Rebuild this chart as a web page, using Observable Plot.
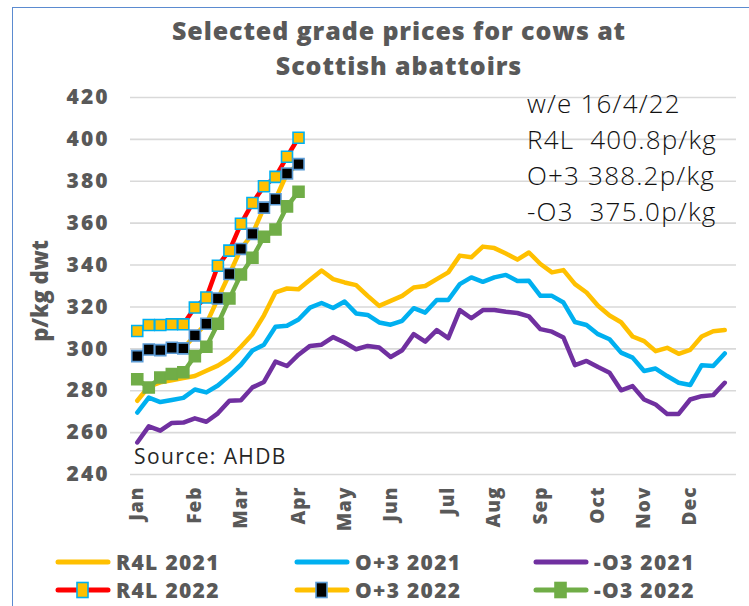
<!DOCTYPE html>
<html>
<head>
<meta charset="utf-8">
<script src="https://cdn.jsdelivr.net/npm/d3@7"></script>
<script src="https://cdn.jsdelivr.net/npm/@observablehq/plot@0.6"></script>
<style>
  body { margin: 0; background: #fff; }
  #wrap { position: relative; width: 749px; height: 606px; overflow: hidden; font-family: "Open Sans", sans-serif; background: #fff; }
  #frame { position: absolute; left: 12px; top: 7px; width: 800px; height: 700px; border: 1.5px solid #5B8BD0; box-sizing: border-box; }
  #title { position: absolute; top: 13px; left: 0; width: 798px; text-align: center; font-weight: 800; font-size: 25px; line-height: 35px; color: #595959; letter-spacing: 0.9px; }
  #chart { position: absolute; top: 80px; left: 0; }
  #note { position: absolute; left: 527px; top: 85px; font-weight: 300; font-size: 26px; line-height: 36px; color: #111; letter-spacing: 1.2px; white-space: pre; }
  #source { position: absolute; left: 134px; top: 442px; font-weight: 400; font-size: 21px; color: #262626; letter-spacing: 1.4px; white-space: pre; }
  .leg { position: absolute; display: flex; align-items: center; font-weight: 800; font-size: 21px; color: #595959; letter-spacing: 1.3px; white-space: pre; height: 28px; }
  .leg svg { margin-right: 3px; }
  #chart svg [aria-label="y-axis tick label"] { letter-spacing: 2px; font-weight: 800; }
  #chart svg [aria-label="x-axis tick label"] { letter-spacing: 1px; font-weight: 800; }
</style>
</head>
<body>
<div id="wrap">
  <div id="frame"></div>
  <div id="title"></div>
  <div id="chart"></div>
  <div id="note"></div>
  <div id="source"></div>
  <div id="legend"></div>
</div>
<script>
// ---- Text ----
const titleLines = ["Selected grade prices for cows at", "Scottish abattoirs"];
const yTitle = "p/kg dwt";
const noteLines = ["w/e 16/4/22", "R4L  400.8p/kg", "O+3 388.2p/kg", "-O3  375.0p/kg"];
const sourceText = "Source: AHDB";

// ---- Axis ticks ----
const yTicks = [240, 260, 280, 300, 320, 340, 360, 380, 400, 420];
const monthNames = ["Jan", "Feb", "Mar", "Apr", "May", "Jun", "Jul", "Aug", "Sep", "Oct", "Nov", "Dec"];
const monthWeek = [0, 5, 9, 14, 18, 22, 27, 31, 35, 40, 44, 48];

// ---- Series (weekly, p/kg dwt) ----
const seriesNames = ["R4L 2021", "O+3 2021", "-O3 2021", "R4L 2022", "O+3 2022", "-O3 2022"];
const r4l2021 = [275.2, 282, 284, 285, 286, 287, 289.5, 292, 295.5, 301, 307, 316, 327, 328.8, 328.5, 333, 337.4, 333.3, 331.7, 330.4,
  325.3, 320.5, 322.9, 325.3, 329.3, 330, 333.3, 336.5, 344.5, 343.7, 348.8, 348.1, 345.5, 342.6, 346, 340.5, 336.5, 337.6, 330.9, 326.9,
  320.6, 315.9, 312.7, 305.9, 303.7, 298.9, 300.5, 297.6, 299.5, 305.9, 308.4, 309];
const o3p2021 = [269.6, 276.7, 274.6, 275.6, 276.6, 280.6, 279.2, 282.5, 287.2, 292.4, 299.2, 302, 310.5, 311, 314, 319.7, 321.9, 319.5, 322.6, 316.9,
  316.2, 312.6, 311.5, 313.4, 319.4, 317.3, 323.3, 323.3, 330.9, 334.1, 332, 334.1, 335.3, 332.4, 332.5, 325.3, 325.3, 322.1, 312.8, 311.4,
  307, 304.6, 298.2, 295.8, 289.4, 290.6, 287, 283.8, 282.7, 292.2, 291.8, 297.8];
const o3m2021 = [255.3, 263, 260.9, 264.6, 264.8, 266.8, 265.2, 269.2, 275.2, 275.4, 281.6, 284.2, 293.9, 291.8, 297.2, 301.4, 302, 305.6, 303, 299.8,
  301.4, 300.6, 296.1, 299.3, 307, 303.4, 308.9, 305.1, 318.5, 314.6, 318.5, 318.5, 317.7, 317.1, 315.5, 309.4, 308.2, 305.4, 292.2, 294.2,
  291.3, 288.6, 280.2, 282.2, 275.8, 273.4, 268.9, 268.9, 275.8, 277.4, 277.9, 283.8];
const r4l2022 = [308.5, 311.4, 311.4, 311.7, 311.7, 319.7, 324.5, 339.7, 346.9, 359.7, 369.6, 377.6, 382.1, 391.7, 400.8];
const o3p2022 = [296.5, 299.7, 299.4, 300.5, 300.2, 306.4, 312, 324, 335.7, 347.7, 354.9, 367.4, 371.4, 383.7, 388.2];
const o3m2022 = [285.5, 281.5, 286.3, 288, 288.8, 296.5, 301, 312, 324, 335.5, 343.5, 353.5, 357, 368, 375.0];

// ---- Styles ----
const styles = [
  {line: "#FFC000"},
  {line: "#00B0F0"},
  {line: "#7030A0"},
  {line: "#FF0000", fill: "#FFC000", stroke: "#00B0F0"},
  {line: "#FFC000", fill: "#000000", stroke: "#5B9BD5"},
  {line: "#70AD47", fill: "#70AD47", stroke: "#70AD47"}
];
const seriesData = [r4l2021, o3p2021, o3m2021, r4l2022, o3p2022, o3m2022];

document.getElementById("title").innerHTML = titleLines.map(t => `<div>${t}</div>`).join("");
document.getElementById("note").textContent = noteLines.join("\n");
document.getElementById("source").textContent = sourceText;

const monthOf = new Map(monthWeek.map((w, i) => [w, monthNames[i]]));
const idx = (d, i) => i;
const val = d => d;

const marks = [
  Plot.ruleY(yTicks, {stroke: "#D9D9D9", strokeWidth: 1.6, insetRight: -6, insetLeft: -1}),
  Plot.axisY(yTicks, {tickSize: 0, tickPadding: 22, fontSize: 21, fontWeight: "bold", color: "#595959", label: null}),
  Plot.axisX(monthWeek, {tickSize: 0, tickPadding: 12, tickRotate: -90, tickFormat: d => monthOf.get(d), fontSize: 19, fontWeight: "bold", color: "#595959", label: null}),
  Plot.text([yTitle], {text: d => d, frameAnchor: "left", textAnchor: "middle", rotate: -90, dx: -91, dy: 5, fontSize: 22, fontWeight: 800, fill: "#595959"})
];
seriesData.forEach((s, k) => {
  const st = styles[k];
  marks.push(Plot.lineY(s, {x: idx, y: val, stroke: st.line, strokeWidth: 4.5, strokeLinejoin: "round", strokeLinecap: "round"}));
  if (st.fill) {
    marks.push(Plot.dot(s, {x: idx, y: val, symbol: "square", r: 6.2, fill: st.fill, stroke: st.stroke, strokeWidth: 1.6}));
  }
});

const chart = Plot.plot({
  width: 749,
  height: 460,
  marginTop: 17,
  marginBottom: 66,
  marginLeft: 131,
  marginRight: 19,
  x: {domain: [-0.5, 51.5], axis: null},
  y: {domain: [240, 420], axis: null},
  style: {fontFamily: "'Open Sans', sans-serif", overflow: "visible", background: "transparent"},
  marks
});
document.getElementById("chart").appendChild(chart);

// ---- Legend ----
const legPos = [
  {x: 55, y: 548}, {x: 294, y: 548}, {x: 533, y: 548},
  {x: 55, y: 576}, {x: 294, y: 576}, {x: 533, y: 576}
];
const legend = document.getElementById("legend");
seriesNames.forEach((name, k) => {
  const st = styles[k];
  const item = document.createElement("div");
  item.className = "leg";
  item.style.left = legPos[k].x + "px";
  item.style.top = legPos[k].y + "px";
  let marker = "";
  if (st.fill) marker = `<rect x="22" y="2.5" width="11" height="15" fill="${st.fill}" stroke="${st.stroke}" stroke-width="1.6"/>`;
  item.innerHTML = `<svg width="58" height="20"><line x1="3" y1="10" x2="53" y2="10" stroke="${st.line}" stroke-width="5" stroke-linecap="round"/>${marker}</svg><span>${name}</span>`;
  legend.appendChild(item);
});
</script>
</body>
</html>
